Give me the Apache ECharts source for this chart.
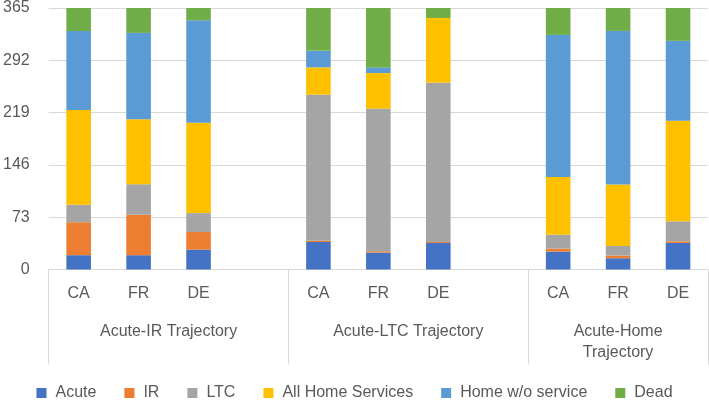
<!DOCTYPE html>
<html>
<head>
<meta charset="utf-8">
<script src="https://cdn.jsdelivr.net/npm/echarts@6/dist/echarts.min.js"></script>
<style>
html,body{margin:0;padding:0;background:#fff;}
#c{width:709px;height:401px;}
</style>
</head>
<body>
<div id="c"></div>
<script>
// ---- data ----
var groups = ['Acute-IR Trajectory', 'Acute-LTC Trajectory', 'Acute-Home\nTrajectory'];
var countries = ['CA', 'FR', 'DE'];
var seriesNames = ['Acute', 'IR', 'LTC', 'All Home Services', 'Home w/o service', 'Dead'];
// values per group: [CA, FR, DE]
var acute   = [[20.0, 20.0, 27.8], [38.4, 23.6, 37.1], [25.0, 15.7, 37.1]];
var ir      = [[46.0, 56.4, 24.5], [1.9, 1.9, 1.3],    [4.2, 3.8, 2.3]];
var ltc     = [[24.5, 42.6, 26.4], [203.8, 199.1, 222.4], [19.4, 13.4, 27.8]];
var homeSvc = [[132.0, 90.8, 126.0], [38.0, 49.6, 90.3], [80.6, 85.7, 140.3]];
var homeNo  = [[110.3, 120.5, 143.2], [23.1, 7.9, 0], [198.3, 214.4, 111.6]];
var dead    = [[32.4, 34.7, 17.1], [59.8, 82.9, 13.9], [37.5, 32.0, 45.9]];
var yTicks = [0, 73, 146, 219, 292, 365];

// ---- build flat category axis (blank slot between groups) ----
var cats = [];
groups.forEach(function (g, gi) {
  countries.forEach(function (c) { cats.push(c); });
  if (gi < groups.length - 1) cats.push('');
});
function flat(arr) {
  var out = [];
  arr.forEach(function (g, gi) {
    g.forEach(function (v) { out.push(v); });
    if (gi < arr.length - 1) out.push(null);
  });
  return out;
}
var allData = [acute, ir, ltc, homeSvc, homeNo, dead];
var colors = ['#4472C4', '#ED7D31', '#A5A5A5', '#FFC000', '#5B9BD5', '#70AD47'];

// group boundaries / label centers in slot units
var bounds = [0], centers = [];
var pos = 0;
groups.forEach(function (g, gi) {
  var span = countries.length + (gi < groups.length - 1 ? 1 : 0);
  centers.push(pos + span / 2);
  pos += span;
  bounds.push(pos);
});
var nSlots = cats.length;

var FONT = 'Liberation Sans';
var TXT = '#595959';

var chart = echarts.init(document.getElementById('c'), null, {renderer: 'canvas'});
chart.setOption({
  animation: false,
  color: colors,
  grid: {left: 45, right: 1, top: 6.7, bottom: 131.5},
  legend: {
    data: seriesNames,
    left: 'center',
    top: 384,
    padding: 0,
    itemWidth: 10,
    itemHeight: 10,
    itemGap: 28,
    icon: 'rect',
    textStyle: {fontFamily: FONT, fontSize: 16, color: TXT, lineHeight: 18, padding: [0, 0, 0, 4]}
  },
  xAxis: [{
    type: 'category',
    data: cats,
    axisLine: {show: true, lineStyle: {color: '#d9d9d9', width: 1}},
    axisTick: {show: false},
    axisLabel: {fontFamily: FONT, fontSize: 16, color: TXT, margin: 16, lineHeight: 16, interval: 0}
  }, {
    type: 'value',
    min: 0,
    max: nSlots,
    position: 'bottom',
    axisLine: {show: false},
    splitLine: {show: false},
    axisTick: {show: true, customValues: bounds, length: 95, lineStyle: {color: '#d9d9d9', width: 1}},
    axisLabel: {
      customValues: centers,
      fontFamily: FONT, fontSize: 16, color: TXT, margin: 52, lineHeight: 21,
      formatter: function (v) {
        for (var i = 0; i < centers.length; i++) { if (Math.abs(centers[i] - v) < 1e-6) return groups[i]; }
        return '';
      }
    }
  }],
  yAxis: {
    type: 'value',
    min: 0,
    max: 365,
    interval: 73,
    axisLine: {show: false},
    axisTick: {show: false},
    splitLine: {lineStyle: {color: '#d9d9d9', width: 1}},
    axisLabel: {fontFamily: FONT, fontSize: 16, color: TXT, margin: 19,
      formatter: function (v) { return yTicks.indexOf(v) >= 0 ? String(v) : ''; }}
  },
  series: seriesNames.map(function (n, i) {
    return {
      name: n,
      type: 'bar',
      stack: 'total',
      xAxisIndex: 0,
      barWidth: '41%',
      data: flat(allData[i]),
      itemStyle: {color: colors[i]}
    };
  })
});
</script>
</body>
</html>
